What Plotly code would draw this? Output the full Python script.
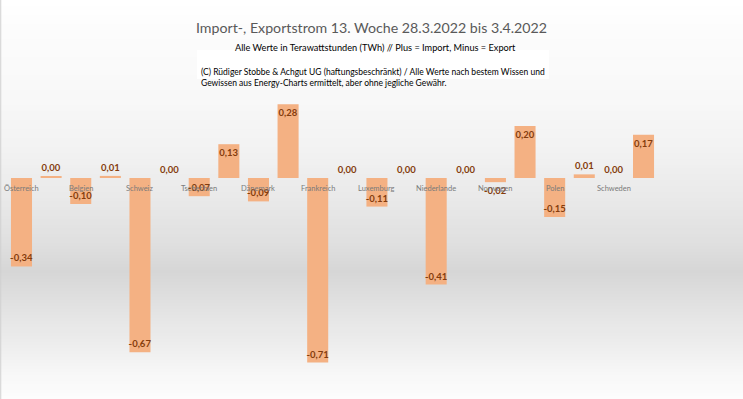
import plotly.graph_objects as go

# ---- data ----
countries = ["Österreich", "Belgien", "Schweiz", "Tschechien", "Dänemark", "Frankreich",
             "Luxemburg", "Niederlande", "Norwegen", "Polen", "Schweden"]
export_vals = [-0.34, -0.10, -0.67, -0.07, -0.09, -0.71, -0.11, -0.41, -0.016, -0.15, 0.0]
import_vals = [0.004, 0.008, 0.0, 0.13, 0.284, 0.0, 0.0, 0.0, 0.20, 0.014, 0.166]

title = "Import-, Exportstrom 13. Woche 28.3.2022 bis 3.4.2022"
subtitle = "Alle Werte in Terawattstunden (TWh) // Plus = Import, Minus = Export"
credit = ("(C) Rüdiger Stobbe &amp; Achgut UG (haftungsbeschränkt) / Alle Werte nach bestem Wissen und<br>"
          "Gewissen aus Energy-Charts ermittelt, aber ohne jegliche Gewähr.")

# interleave: export bar then import bar per country
values = []
for e, i in zip(export_vals, import_vals):
    values += [e, i]
xs = list(range(len(values)))
labels = [f"{v:.2f}".replace(".", ",") for v in values]
labels = ["0,00" if l == "-0,00" else l for l in labels]
positions = ["outside" if abs(v) < 0.05 else "inside" for v in values]

BAR = "#F4B183"
LABEL = "#843C0C"
FONT = "Lato, 'Open Sans', sans-serif"

W, H = 743, 399
zero_px = 178
scale = 260.0
first_px, step_px = 21.5, 29.62

fig = go.Figure()
fig.add_trace(go.Bar(
    x=xs, y=values, marker=dict(color=BAR, line=dict(width=0)),
    width=0.71,
    text=labels, textposition=positions, insidetextanchor="end",
    textangle=0, constraintext="none", cliponaxis=False,
    textfont=dict(family=FONT, size=9.5, color=LABEL, weight="bold"),
    insidetextfont=dict(family=FONT, size=9.5, color=LABEL, weight="bold"),
    outsidetextfont=dict(family=FONT, size=9.5, color=LABEL, weight="bold"),
    hoverinfo="skip",
))

# category labels at zero line under export bars
for k, c in enumerate(countries):
    fig.add_annotation(x=2 * k, y=0, text=c, showarrow=False, yshift=-10,
                       font=dict(family=FONT, size=7.5, color="#7A7A7A"))

# background gradient
stops = [(0, 255), (30, 252), (100, 248), (150, 242), (200, 233), (240, 224),
         (272, 214), (300, 224), (340, 236), (370, 246), (399, 253)]
shapes = []
for y in range(0, H, 3):
    for (a, ca), (b, cb) in zip(stops[:-1], stops[1:]):
        if a <= y + 1.5 <= b:
            t = (y + 1.5 - a) / (b - a)
            g = int(round(ca + (cb - ca) * t))
            break
    shapes.append(dict(type="rect", xref="paper", yref="paper", layer="below",
                       x0=0, x1=1, y0=1 - (y + 3) / H, y1=1 - y / H,
                       fillcolor=f"rgb({g},{g},{g})", line=dict(width=0)))
shapes.append(dict(type="line", xref="paper", yref="paper", x0=0.001, x1=0.001, y0=0, y1=1,
                   line=dict(color="#D0D0D0", width=1)))
# white box behind credit text
shapes.append(dict(type="rect", xref="paper", yref="paper", layer="below",
                   x0=197 / W, x1=549 / W, y0=1 - 79 / H, y1=1 - 50 / H,
                   fillcolor="white", line=dict(width=0)))

fig.add_annotation(xref="paper", yref="paper", x=372 / W, y=1 - 17 / H, text=title,
                   showarrow=False, font=dict(family=FONT, size=14.2, color="#595959"))
fig.add_annotation(xref="paper", yref="paper", x=375 / W, y=1 - 40 / H, text=subtitle,
                   showarrow=False, font=dict(family=FONT, size=9.2, color="#000000"))
fig.add_annotation(xref="paper", yref="paper", x=199 / W, y=1 - 65 / H, text=credit,
                   showarrow=False, xanchor="left", align="left",
                   font=dict(family=FONT, size=8.5, color="#000000"))

x_lo = (0 - first_px) / step_px
x_hi = (W - first_px) / step_px
y_hi = zero_px / scale
y_lo = -(H - zero_px) / scale

fig.update_layout(
    width=W, height=H, margin=dict(l=0, r=0, t=0, b=0),
    paper_bgcolor="white", plot_bgcolor="rgba(0,0,0,0)",
    showlegend=False, shapes=shapes,
    xaxis=dict(range=[x_lo, x_hi], visible=False, fixedrange=True),
    yaxis=dict(range=[y_lo, y_hi], visible=False, fixedrange=True),
)

fig.write_html("out.html", config={"displayModeBar": False},
               post_script="document.body.style.margin='0';document.body.style.overflow='hidden';")
